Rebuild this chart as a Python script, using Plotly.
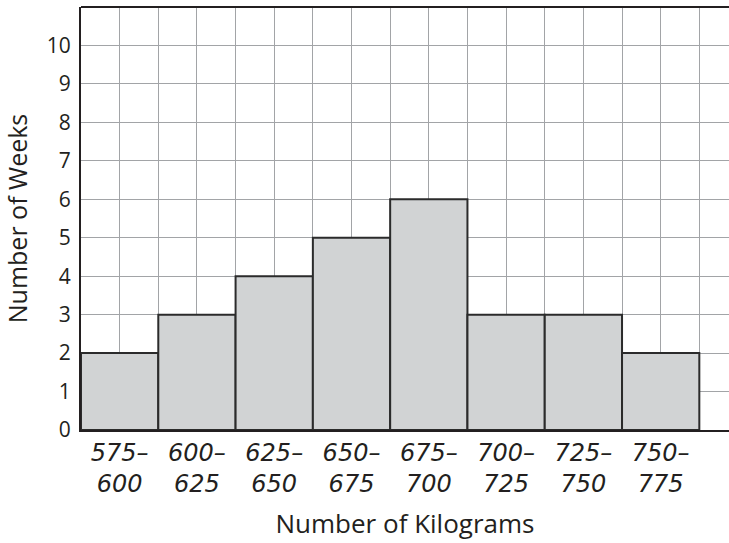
import plotly.graph_objects as go

bin_starts = [575, 600, 625, 650, 675, 700, 725, 750]
bin_width = 25
weeks = [2, 3, 4, 5, 6, 3, 3, 2]
tick_labels = [f"{s}–<br>{s + bin_width}" for s in bin_starts]
y_ticks = list(range(0, 11))

centers = [s + bin_width / 2 for s in bin_starts]

fig = go.Figure()
fig.add_trace(go.Bar(
    x=centers, y=weeks, width=[bin_width] * len(weeks),
    marker=dict(color="#d1d3d4", line=dict(color="#2b2b2b", width=2)),
    hoverinfo="skip",
))

font_family = "Open Sans, Noto Sans, sans-serif"
fig.update_layout(
    width=729, height=543,
    margin=dict(l=81, r=0, t=7, b=113),
    plot_bgcolor="white", paper_bgcolor="white",
    showlegend=False,
    font=dict(family=font_family, color="#231f20"),
    xaxis=dict(
        range=[575, 784.6],
        tickmode="array", tickvals=centers, ticktext=tick_labels,
        tickfont=dict(size=24, style="italic", family="DejaVu Sans", color="#231f20"),
        ticks="",
        showgrid=True, gridcolor="#a2a4a7", gridwidth=1.3,
        minor=dict(tick0=575, dtick=12.5, showgrid=True, gridcolor="#a2a4a7", gridwidth=1.3),
        showline=True, linecolor="#231f20", linewidth=2,
        zeroline=False, fixedrange=True,
        title=dict(text="Number of Kilograms", font=dict(size=26), standoff=18),
    ),
    yaxis=dict(
        range=[0, 11],
        tickmode="array", tickvals=y_ticks + [11], ticktext=[str(v) for v in y_ticks] + [""],
        tickfont=dict(size=21, color="#231f20"),
        ticks="outside", ticklen=4, tickcolor="rgba(0,0,0,0)",
        showgrid=True, gridcolor="#a2a4a7", gridwidth=1.3,
        showline=True, linecolor="#231f20", linewidth=2,
        zeroline=False, fixedrange=True,
        title=dict(text="Number of Weeks", font=dict(size=25), standoff=12),
    ),
    shapes=[dict(type="line", xref="paper", yref="paper", x0=0, x1=1, y0=1, y1=1,
                 line=dict(color="#231f20", width=2))],
)

fig.write_html("out.html", config={"displayModeBar": False},
               post_script="document.body.style.margin='0';document.body.style.overflow='hidden';")
